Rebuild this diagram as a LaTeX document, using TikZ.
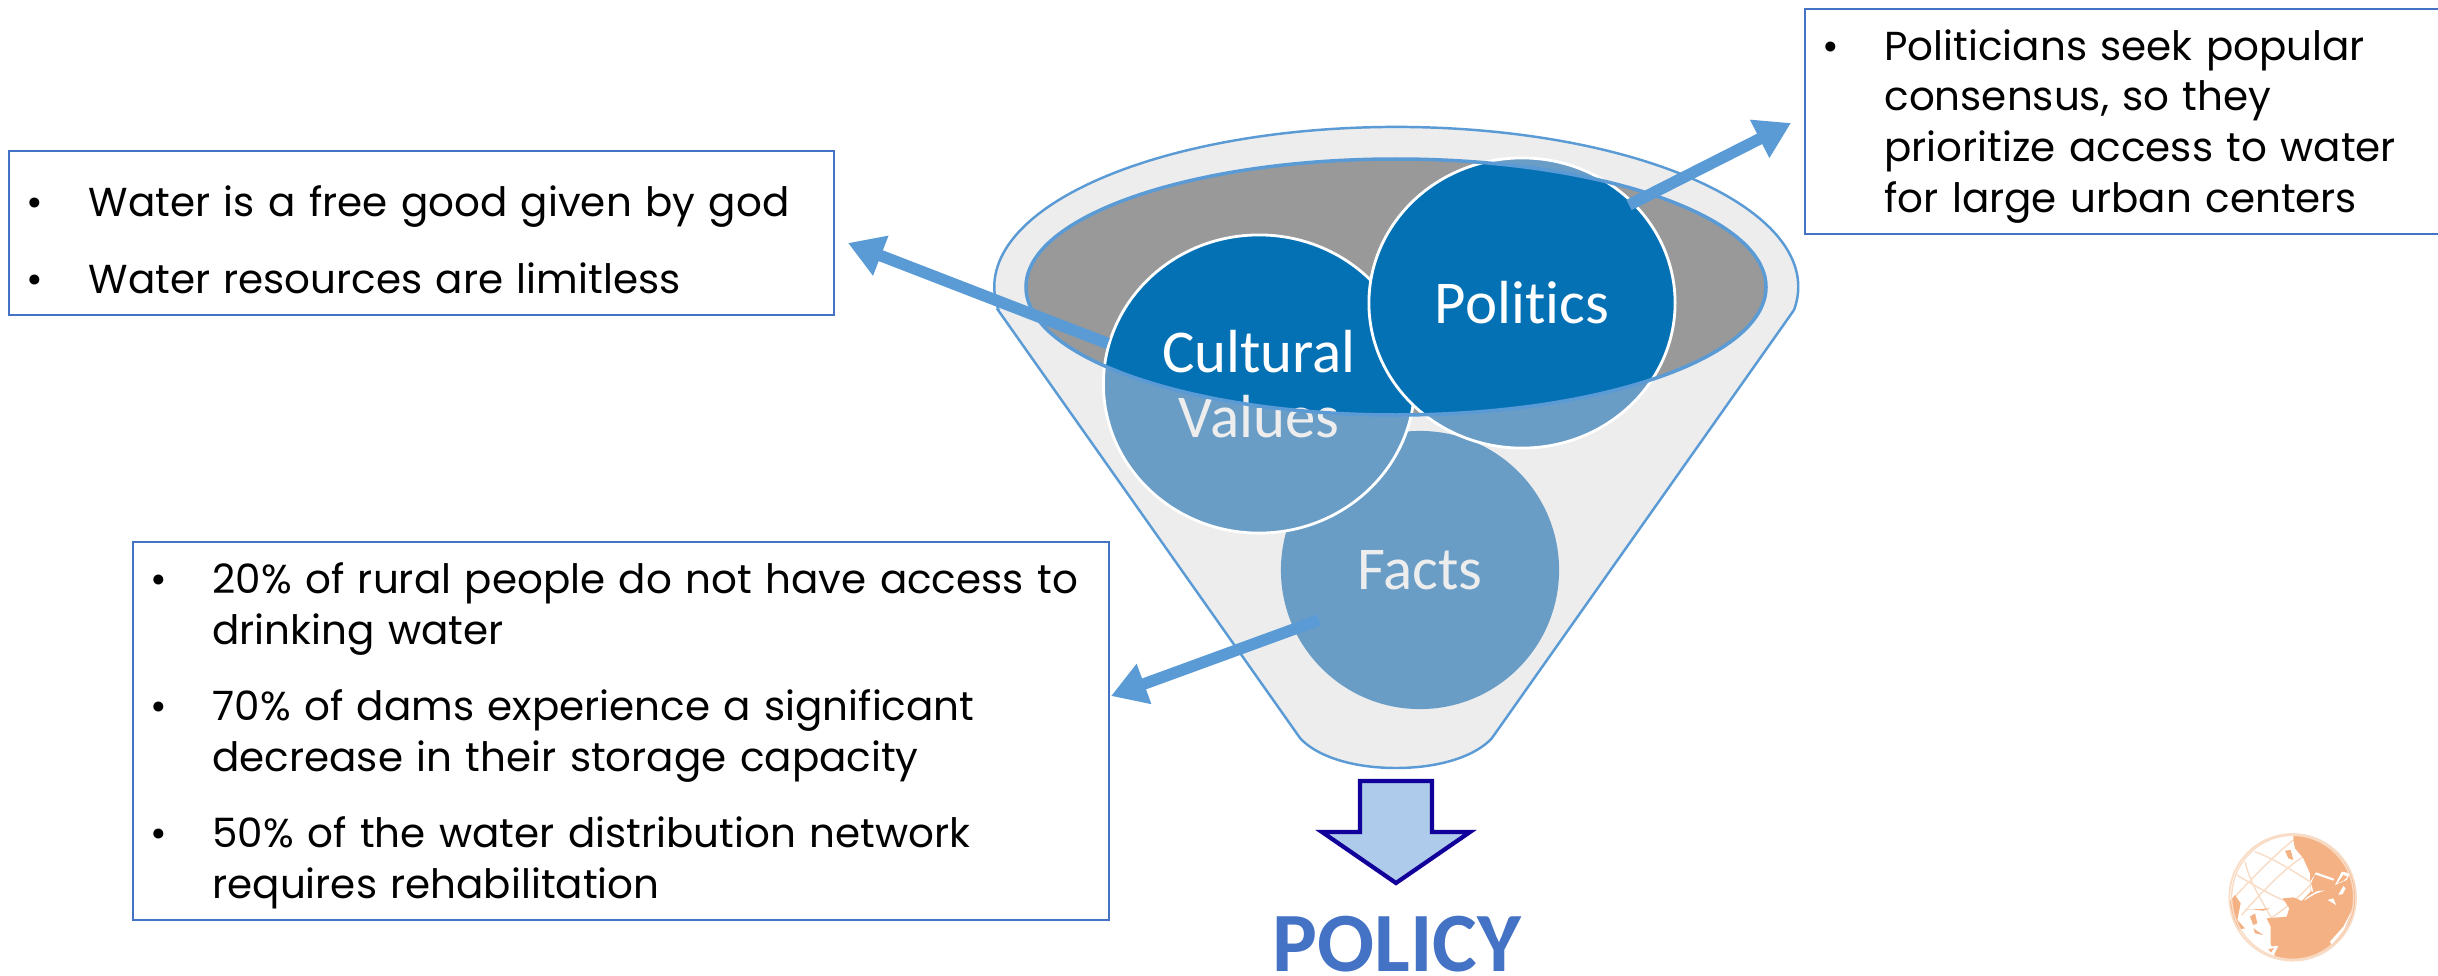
\documentclass[tikz,border=0pt]{standalone}
\usepackage{fontspec}
\setmainfont{Poppins}
\newfontfamily\labelfont[Ligatures=CommonOff]{Carlito}
\usetikzlibrary{arrows.meta,shapes.geometric}
\definecolor{funnelline}{HTML}{5B9BD5}
\definecolor{funnelfill}{HTML}{EDEDED}
\definecolor{bubblelight}{HTML}{6A9DC6}
\definecolor{bubbledark}{HTML}{0571B5}
\definecolor{boxline}{HTML}{4472C4}
\definecolor{arrowline}{HTML}{12009A}
\definecolor{arrowfill}{HTML}{AECBEB}
\definecolor{globecolor}{HTML}{F4B183}
\definecolor{gridcolor}{HTML}{F8DCC6}
\newenvironment{boxlist}[1][3pt]{\def\boxlistgap{#1}\begin{list}{\textbullet}{\setlength\leftmargin{16.6pt}\setlength\labelwidth{10pt}\setlength\labelsep{12.8pt}\setlength\itemsep{7.3pt}\setlength\parsep{0pt}\setlength\topsep{0pt}\setlength\partopsep{0pt}}\raggedright}{\end{list}\par\vskip\boxlistgap\hrule height 0pt width 0pt}
\tikzset{
	textbox/.style={draw=boxline,line width=0.6pt,rectangle,inner xsep=6pt,inner ysep=0pt,font=\fontsize{11.5}{14.4}\selectfont,anchor=north west},
	bubble/.style={ellipse,inner sep=0pt,fill=bubblelight,draw=white,line width=0.8pt,text=white,align=center,
		font=\labelfont\fontsize{17.3}{18.4}\selectfont,
		path picture={\fill[bubbledark] (funneltop) ellipse [x radius=370,y radius=128];}},
	pointer/.style={draw=funnelline,line width=3.3pt,-{Triangle[length=10pt,width=11.5pt]}}
}
\begin{document}
\begin{tikzpicture}[x=0.01cm,y=-0.01cm]
	\useasboundingbox (0,0) rectangle (2438,975);
	\coordinate (funneltop) at (1396,287);
	% funnel
	\draw[funnelline,fill=funnelfill,line width=0.7pt] (998,310) -- (1300,738) .. controls (1315,755) and (1350,768) .. (1396,768) .. controls (1442,768) and (1477,755) .. (1492,738) -- (1794,310) arc [start angle=8.3,end angle=-188.3,x radius=402,y radius=160] -- cycle;
	\fill[black!40] (funneltop) ellipse [x radius=370,y radius=128];
	% bubbles
	\node[bubble,minimum width=2.78cm,minimum height=2.78cm,draw=none] (facts) at (1420,570) {\textcolor{funnelfill}{Facts}};
	\node[bubble,minimum width=3.11cm,minimum height=2.98cm] (cultural) at (1259,384) {Cultural\\\textcolor{funnelfill}{Values}};
	\node[bubble,minimum width=3.06cm,minimum height=2.90cm] (politics) at (1522,303) {Politics};
	\draw[funnelline,line width=1pt] (funneltop) ellipse [x radius=370,y radius=128];
	% text boxes
	\node[textbox,text width=7.82cm,minimum height=1.64cm] (valuesbox) at (8,150) {\begin{boxlist}[1.8pt]
		\item Water is a free good given by god
		\item Water resources are limitless
	\end{boxlist}};
	\node[textbox,text width=6.2cm,minimum height=2.25cm] (politicsbox) at (1804,8) {\begin{boxlist}
		\item Politicians seek popular\\consensus, so they\\prioritize access to water\\for large urban centers
	\end{boxlist}};
	\node[textbox,text width=9.33cm,minimum height=3.78cm] (factsbox) at (132,541) {\begin{boxlist}
		\item 20\% of rural people do not have access to\\drinking water
		\item 70\% of dams experience a significant\\decrease in their storage capacity
		\item 50\% of the water distribution network\\requires rehabilitation
	\end{boxlist}};
	% arrows
	\coordinate (valuesend) at (848,243);
	\coordinate (politicsstart) at (1629,205);
	\coordinate (politicsend) at (1791,123);
	\coordinate (factsstart) at (1319,620);
	\coordinate (factsend) at (1111,696);
	\draw[pointer] (cultural.165) -- (valuesend);
	\draw[pointer] (politicsstart) -- (politicsend);
	\draw[pointer] (factsstart) -- (factsend);
	% policy
	\draw[draw=arrowline,fill=arrowfill,line width=1.2pt] (1360,781) -- (1432,781) -- (1432,832) -- (1470,832) -- (1396,883) -- (1322,832) -- (1360,832) -- cycle;
	\node[text=boxline,font=\labelfont\bfseries\fontsize{24}{24}\selectfont,inner sep=0pt] (policy) at (1397,944) {POLICY};
	% globe
	\begin{scope}[shift={(2200,820)},scale=0.3333]
		\begin{scope}
			\clip (278,232) circle [radius=190];
			\draw[gridcolor,line width=0.4pt] (100,235) .. controls (170,160) and (230,100) .. (280,60)
				(135,125) .. controls (150,190) and (190,250) .. (215,295)
				(165,95) .. controls (230,120) and (290,160) .. (330,185)
				(110,165) .. controls (170,200) and (230,235) .. (262,245)
				(125,285) .. controls (190,210) and (260,140) .. (310,110)
				(205,300) .. controls (250,270) and (300,230) .. (330,195);
			\fill[globecolor] (280,60) -- (285,85) -- (310,115) -- (330,160) -- (332,215) -- (305,243) -- (280,232) -- (248,235) -- (268,265) -- (260,290) -- (200,295) -- (212,320) -- (212,370) -- (225,410) -- (240,440) -- (480,440) -- (480,40) -- (280,40) -- cycle;
			\fill[globecolor] (80,255) -- (105,225) -- (122,250) -- (112,300) -- (135,325) -- (110,330) -- (80,300) -- cycle;
			\fill[globecolor] (255,92) -- (272,90) -- (280,120) -- (265,115) -- cycle;
			\fill[globecolor] (150,290) -- (165,280) -- (172,310) -- (160,315) -- cycle;
			\fill[globecolor] (130,270) -- (210,265) -- (190,272) -- (150,268) -- cycle;
			\fill[globecolor] (160,325) -- (190,345) -- (165,340) -- cycle;
			\fill[white] (340,215) -- (333,190) -- (345,163) -- (400,182) -- (402,176) -- (348,157) -- (331,185) -- (334,214) -- cycle;
			\fill[white] (312,242) -- (345,222) -- (375,211) -- (350,214) -- (320,232) -- cycle;
			\fill[white] (405,195) -- (425,155) -- (450,160) -- (440,180) -- cycle;
			\fill[globecolor] (412,190) -- (430,165) -- (442,170) -- (430,182) -- cycle;
			\fill[white] (415,225) -- (430,198) -- (437,205) -- (428,222) -- cycle;
			\fill[white] (382,240) -- (400,235) -- (408,255) -- (392,245) -- cycle;
			\fill[white] (390,365) -- (430,320) -- (460,262) -- (432,330) -- (395,375) -- cycle;
			\fill[white] (200,380) -- (235,378) -- (220,408) -- (198,400) -- cycle;
			\fill[globecolor] (205,388) -- (222,384) -- (213,398) -- cycle;
		\end{scope}
		\draw[gridcolor,line width=0.5pt] (278,232) circle [radius=190];
		\draw[gridcolor,line width=0.4pt] (278,232) circle [x radius=183,y radius=186];
	\end{scope}
\end{tikzpicture}
\end{document}
